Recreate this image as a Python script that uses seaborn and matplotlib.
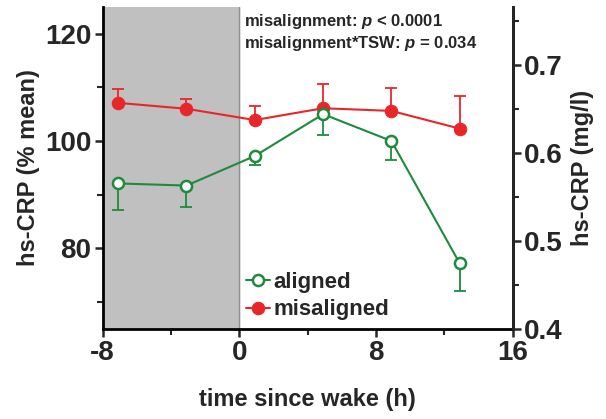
import matplotlib
matplotlib.use("Agg")
import matplotlib.pyplot as plt
import numpy as np
import pandas as pd
import seaborn as sns
from matplotlib.ticker import MultipleLocator

# time since wake (h)
tsw = [-7.1, -3.1, 0.9, 4.9, 8.9, 12.9]
# hs-CRP, % of mean
aligned = [92.1, 91.7, 97.2, 105.0, 100.0, 77.2]
aligned_err = [5.0, 4.0, 1.6, 3.9, 3.5, 5.1]        # drawn below
misaligned = [107.1, 106.0, 103.9, 106.1, 105.6, 102.3]
misaligned_err = [2.5, 1.8, 2.6, 4.5, 4.2, 6.1]     # drawn above

red = "#e8262a"
green = "#1f8a3c"

sns.set_style("ticks")
plt.rcParams["font.family"] = ["Liberation Sans", "DejaVu Sans"]
plt.rcParams["font.weight"] = "bold"
plt.rcParams["axes.unicode_minus"] = False
plt.rcParams["mathtext.fontset"] = "custom"
plt.rcParams["mathtext.it"] = "Liberation Sans:italic:bold"
plt.rcParams["mathtext.rm"] = "Liberation Sans:bold"

df = pd.DataFrame({
    "tsw": tsw * 2,
    "crp": aligned + misaligned,
    "group": ["aligned"] * 6 + ["misaligned"] * 6,
})

fig = plt.figure(figsize=(6.06, 4.19), dpi=100)
ax = fig.add_axes([0.1695, 0.2148, 0.6766, 0.7692])

ax.axvspan(-8, 0, color="#c0c0c0", zorder=0)
ax.axvline(0, color="#909090", lw=1, zorder=0.5)

# error bars (one-sided)
ax.errorbar(tsw, misaligned, yerr=[np.zeros(6), misaligned_err], fmt="none",
            ecolor=red, elinewidth=1.3, capsize=4, capthick=1.3, zorder=2)
ax.errorbar(tsw, aligned, yerr=[aligned_err, np.zeros(6)], fmt="none",
            ecolor=green, elinewidth=1.3, capsize=4, capthick=1.3, zorder=2)

sns.lineplot(data=df[df.group == "misaligned"], x="tsw", y="crp", ax=ax,
             color=red, lw=1.5, marker="o", markersize=9, markeredgecolor=red,
             markerfacecolor=red, label="misaligned", zorder=3)
sns.lineplot(data=df[df.group == "aligned"], x="tsw", y="crp", ax=ax,
             color=green, lw=1.5, marker="o", markersize=8, markeredgecolor=green,
             markeredgewidth=1.8, markerfacecolor="white", label="aligned", zorder=4)

ax.set_xlim(-8, 16)
ax.set_ylim(65, 125)
ax.xaxis.set_minor_locator(MultipleLocator(4))
ax.yaxis.set_minor_locator(MultipleLocator(10))
ax.set_yticks([80, 100, 120])
ax.set_xticks([-8, 0, 8, 16])

ax.set_xlabel("time since wake (h)", fontsize=17, fontweight="bold", labelpad=16)
ax.set_ylabel("hs-CRP (% mean)", fontsize=17, fontweight="bold", labelpad=4)

for s in ["left", "bottom", "right"]:
    ax.spines[s].set_linewidth(2)
    ax.spines[s].set_color("black")
ax.spines["top"].set_visible(False)
ax.tick_params(which="major", direction="out", length=6, width=1.8, labelsize=20, pad=2)
ax.tick_params(which="minor", direction="out", length=4, width=1.5)
for lab in ax.get_xticklabels() + ax.get_yticklabels():
    lab.set_fontweight("bold")

ax2 = ax.twinx()
ax2.set_ylim(0.4, 0.7665)
ax2.set_yticks([0.4, 0.5, 0.6, 0.7])
ax2.set_yticklabels(["0.4", "0.5", "0.6", "0.7"])
ax2.yaxis.set_minor_locator(MultipleLocator(0.05))
ax2.spines["right"].set_linewidth(2)
ax2.spines["top"].set_visible(False)
ax2.spines["left"].set_visible(False)
ax2.spines["bottom"].set_visible(False)
ax2.tick_params(which="major", direction="out", length=6, width=1.8, labelsize=20, pad=2)
ax2.tick_params(which="minor", direction="out", length=4, width=1.5)
for lab in ax2.get_yticklabels():
    lab.set_fontweight("bold")
ax2.set_ylabel("hs-CRP (mg/l)", fontsize=17, fontweight="bold", labelpad=6)

h, l = ax.get_legend_handles_labels()
order = [l.index("aligned"), l.index("misaligned")]
ax.legend([h[i] for i in order], [l[i] for i in order], loc="lower left",
          bbox_to_anchor=(0.30, -0.035), frameon=False, handlelength=1.1,
          handletextpad=0.15, labelspacing=0.3, prop={"size": 16, "weight": "bold"})

ax.text(0.345, 0.985, "misalignment: $p$ < 0.0001", transform=ax.transAxes,
        fontsize=12, fontweight="bold", va="top", ha="left")
ax.text(0.345, 0.915, "misalignment*TSW: $p$ = 0.034", transform=ax.transAxes,
        fontsize=12, fontweight="bold", va="top", ha="left")

fig.savefig("out.png", dpi=100)
